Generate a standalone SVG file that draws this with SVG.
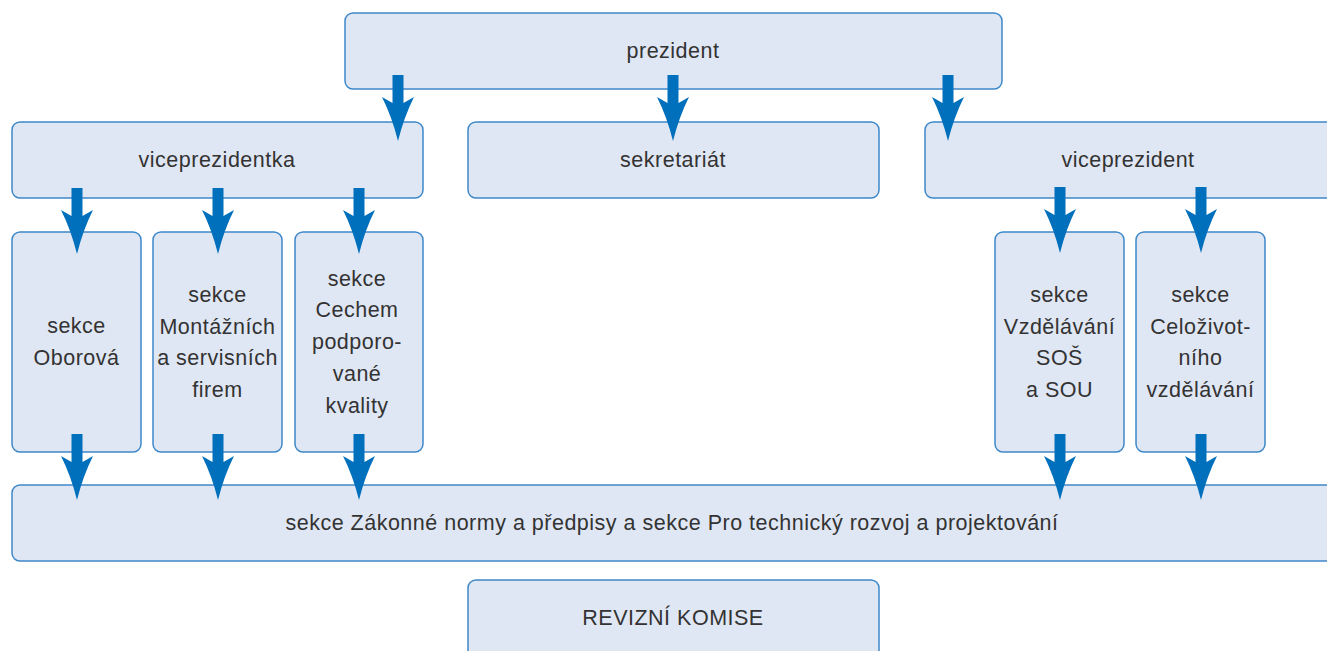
<svg xmlns="http://www.w3.org/2000/svg" xmlns:xlink="http://www.w3.org/1999/xlink" width="1327" height="651" viewBox="0 0 1327 651">
  <style>
    .box { fill: #e0e7f4; stroke: #3d88c9; stroke-width: 1.5; }
    .lbl { font-family: "Liberation Sans", Arial, sans-serif; font-size: 21.5px; letter-spacing: 0.5px; fill: #333333; text-anchor: middle; }
    .arr { fill: #0070bc; }
  </style>
  <defs>
    <!-- downward block arrow, origin at top-centre of the shaft -->
    <path id="arrow" d="M -5.5 0 H 5.5 V 28 L 16 22 Q 6 42 0 66 Q -6 42 -16 22 L -5.5 28 Z"/>
  </defs>
  <rect width="1327" height="651" fill="#ffffff"/>

  <g id="prezident">
    <rect class="box" x="345" y="13" width="657" height="76" rx="8"/>
    <text class="lbl" x="673" y="58">prezident</text>
  </g>
  <g id="viceprezidentka">
    <rect class="box" x="12" y="122" width="411" height="76" rx="8"/>
    <text class="lbl" x="217" y="167">viceprezidentka</text>
  </g>
  <g id="sekretariat">
    <rect class="box" x="468" y="122" width="411" height="76" rx="8"/>
    <text class="lbl" x="673" y="167">sekretariát</text>
  </g>
  <g id="viceprezident">
    <rect class="box" x="925" y="122" width="420" height="76" rx="8"/>
    <text class="lbl" x="1128" y="167">viceprezident</text>
  </g>

  <g id="sekce-oborova">
    <rect class="box" x="12" y="232" width="129" height="220" rx="8"/>
    <text class="lbl"><tspan x="76.5" y="333">sekce</tspan><tspan x="76.5" y="364.5">Oborová</tspan></text>
  </g>
  <g id="sekce-montaznich">
    <rect class="box" x="153" y="232" width="129" height="220" rx="8"/>
    <text class="lbl"><tspan x="217.5" y="302">sekce</tspan><tspan x="217.5" y="333.5">Montážních</tspan><tspan x="217.5" y="365">a servisních</tspan><tspan x="217.5" y="396.5">firem</tspan></text>
  </g>
  <g id="sekce-cechem">
    <rect class="box" x="295" y="232" width="128" height="220" rx="8"/>
    <text class="lbl"><tspan x="357" y="285.5">sekce</tspan><tspan x="357" y="317">Cechem</tspan><tspan x="357" y="349">podporo-</tspan><tspan x="357" y="381">vané</tspan><tspan x="357" y="413">kvality</tspan></text>
  </g>
  <g id="sekce-vzdelavani">
    <rect class="box" x="995" y="232" width="129" height="220" rx="8"/>
    <text class="lbl"><tspan x="1059.5" y="302">sekce</tspan><tspan x="1059.5" y="333.5">Vzdělávání</tspan><tspan x="1059.5" y="365">SOŠ</tspan><tspan x="1059.5" y="396.5">a SOU</tspan></text>
  </g>
  <g id="sekce-celozivotniho">
    <rect class="box" x="1136" y="232" width="129" height="220" rx="8"/>
    <text class="lbl"><tspan x="1200.5" y="302">sekce</tspan><tspan x="1200.5" y="333.5">Celoživot-</tspan><tspan x="1200.5" y="365">ního</tspan><tspan x="1200.5" y="396.5">vzdělávání</tspan></text>
  </g>

  <g id="sekce-zakonne-normy">
    <rect class="box" x="12" y="485" width="1330" height="76" rx="8"/>
    <text class="lbl" x="672" y="530">sekce Zákonné normy a předpisy a sekce Pro technický rozvoj a projektování</text>
  </g>
  <g id="revizni-komise">
    <rect class="box" x="468" y="580" width="411" height="90" rx="8"/>
    <text class="lbl" x="673" y="625">REVIZNÍ KOMISE</text>
  </g>

  <g id="connectors" class="arr">
    <use xlink:href="#arrow" href="#arrow" x="398" y="75"/>
    <use xlink:href="#arrow" href="#arrow" x="673" y="75"/>
    <use xlink:href="#arrow" href="#arrow" x="948" y="75"/>
    <use xlink:href="#arrow" href="#arrow" x="77" y="188"/>
    <use xlink:href="#arrow" href="#arrow" x="218" y="188"/>
    <use xlink:href="#arrow" href="#arrow" x="359" y="188"/>
    <use xlink:href="#arrow" href="#arrow" x="1060" y="187"/>
    <use xlink:href="#arrow" href="#arrow" x="1201" y="187"/>
    <use xlink:href="#arrow" href="#arrow" x="77" y="434"/>
    <use xlink:href="#arrow" href="#arrow" x="218" y="434"/>
    <use xlink:href="#arrow" href="#arrow" x="359" y="434"/>
    <use xlink:href="#arrow" href="#arrow" x="1060" y="434"/>
    <use xlink:href="#arrow" href="#arrow" x="1201" y="434"/>
  </g>
</svg>
